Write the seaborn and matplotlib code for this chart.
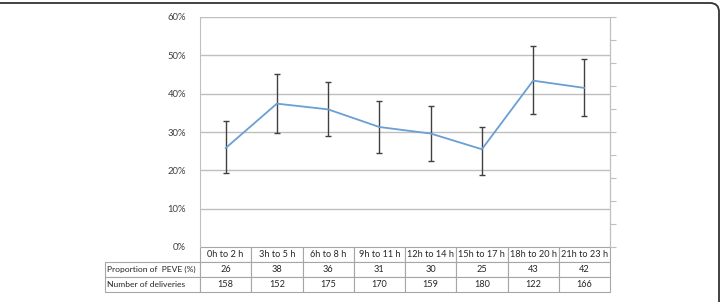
import numpy as np
import pandas as pd
import matplotlib
matplotlib.use("Agg")
import matplotlib.pyplot as plt
import matplotlib.patches as mpatches
import seaborn as sns

# datos
franjas = ['0h to 2 h', '3h to 5 h', '6h to 8 h', '9h to 11 h',
           '12h to 14 h', '15h to 17 h', '18h to 20 h', '21h to 23 h']
proporcion = [25.8, 37.4, 35.9, 31.3, 29.6, 25.5, 43.4, 41.5]
ic_inf = [19.2, 29.8, 29.0, 24.4, 22.4, 18.8, 34.7, 34.1]
ic_sup = [32.9, 45.1, 43.1, 38.2, 36.7, 31.2, 52.4, 49.0]
peve_tabla = [26, 38, 36, 31, 30, 25, 43, 42]
partos = [158, 152, 175, 170, 159, 180, 122, 166]
filas = ['Proportion of  PEVE (%)', 'Number of deliveries']

sns.set_style("white")
plt.rcParams['font.family'] = ['Lato', 'DejaVu Sans']
tam = 6.6

df = pd.DataFrame({"x": np.arange(len(franjas)), "p": proporcion})

W, H = 722, 302
fig = plt.figure(figsize=(W / 100, H / 100), dpi=100)
ax = fig.add_axes([200 / W, (H - 247) / H, 410 / W, 230 / H])

gris = '#bfbfbf'
for v in range(10, 70, 10):
    ax.axhline(v, color=gris, lw=1, zorder=0)

err = [np.array(proporcion) - np.array(ic_inf), np.array(ic_sup) - np.array(proporcion)]
ax.errorbar(df["x"], df["p"], yerr=err, fmt='none', ecolor='#404040',
            elinewidth=1, capsize=2, capthick=1, zorder=2)
sns.lineplot(data=df, x="x", y="p", color='#6a9fd4', lw=1.3, ax=ax, zorder=3)

ax.set_xlim(-0.5, len(franjas) - 0.5)
ax.set_ylim(0, 60)
ax.set_yticks(range(0, 70, 10))
ax.set_yticklabels([f"{v}%" for v in range(0, 70, 10)])
ax.tick_params(axis='y', length=0, pad=10, labelsize=6.8, labelcolor='#404040')
ax.set_xticks([])
ax.set_xlabel('')
ax.set_ylabel('')
for s in ['top', 'bottom']:
    ax.spines[s].set_visible(False)
ax.spines['left'].set_color(gris)
ax.spines['right'].set_color(gris)

# eje derecho sin etiquetas
ax2 = ax.twinx()
ax2.set_ylim(0, 1)
ax2.set_yticks(np.linspace(0, 1, 11))
ax2.set_yticklabels([])
ax2.tick_params(axis='y', length=4, width=0.8, color=gris, direction='out')
for s in ['top', 'bottom', 'left']:
    ax2.spines[s].set_visible(False)
ax2.spines['right'].set_color(gris)

# tabla debajo: primera columna = nombres de filas
celdas = [[filas[0]] + [str(v) for v in peve_tabla],
          [filas[1]] + [str(v) for v in partos]]
tabla = ax.table(cellText=celdas, colLabels=[''] + franjas, cellLoc='center',
                 bbox=[-95 / 410, -45 / 230, 505 / 410, 45 / 230])
tabla.auto_set_font_size(False)
for (r, c), celda in tabla.get_celld().items():
    celda.set_edgecolor('#a6a6a6')
    celda.set_linewidth(0.8)
    celda.set_width(95 if c == 0 else 51.25)
    celda.get_text().set_fontsize(tam)
    celda.get_text().set_color('#262626')
    if c == 0:
        celda.get_text().set_ha('left')
        celda.get_text().set_fontsize(6.1)
        celda.PAD = 0.02
        if r == 0:
            celda.visible_edges = ''

# marco exterior redondeado
marco = mpatches.FancyBboxPatch((-0.5, -0.5), 7.19 + 0.5, 2.99 + 0.5,
                                boxstyle="round,pad=0,rounding_size=0.09",
                                transform=fig.dpi_scale_trans, fill=False,
                                ec='#333333', lw=1.3, clip_on=False)
fig.add_artist(marco)

fig.savefig("out.png", dpi=100)
